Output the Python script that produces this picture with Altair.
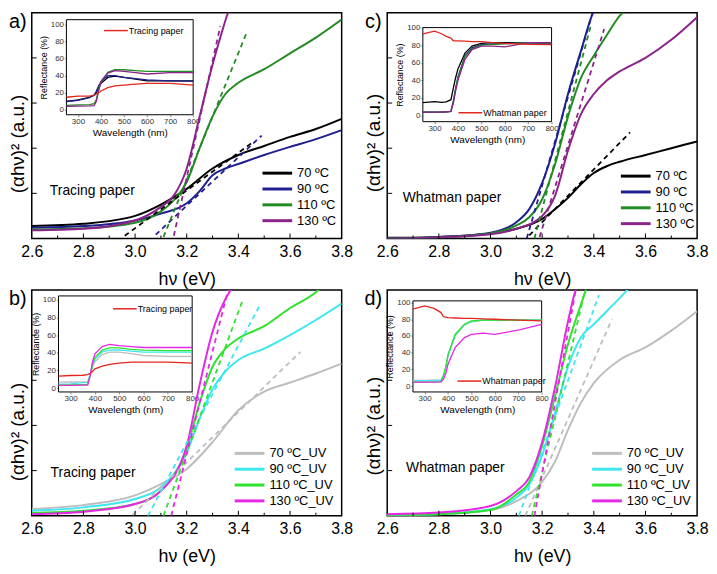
import altair as alt
import pandas as pd

W, H = 313, 228
FONT = "Liberation Sans"
RED = "#e3261f"

HV_MAJOR = [2.6, 2.8, 3.0, 3.2, 3.4, 3.6, 3.8]
HV_MINOR = [2.7, 2.9, 3.1, 3.3, 3.5, 3.7]
Y_TICKS = [20, 40, 60, 80]
WL_TICKS = [300, 400, 500, 600, 700, 800]
R_TICKS = [0, 20, 40, 60, 80, 100]

NAMES_T = ["70 ºC", "90 ºC", "110 ºC", "130 ºC"]
NAMES_UV = ["70 ºC_UV", "90 ºC_UV", "110 ºC_UV", "130 ºC_UV"]
COLORS_T = ["#000000", "#1f1f8f", "#238b23", "#8b238b"]
COLORS_UV = ["#bdbdbd", "#3ee6f2", "#2ee22e", "#e627e6"]

# ---------------- panel a (Tracing paper) ----------------
A_X = [
    [2.6, 2.8, 3.0, 3.1, 3.2, 3.3, 3.4, 3.5, 3.6, 3.7, 3.8],
    [2.6, 2.8, 3.0, 3.1, 3.2, 3.25, 3.3, 3.35, 3.4, 3.5, 3.6, 3.7, 3.8],
    [2.6, 2.8, 3.0, 3.1, 3.15, 3.2, 3.25, 3.3, 3.35, 3.4, 3.5, 3.6, 3.7, 3.8],
    [2.6, 2.8, 3.0, 3.1, 3.15, 3.2, 3.25, 3.3, 3.33, 3.36, 3.38],
]
A_Y = [
    [5.5, 6.5, 10, 15, 22, 31, 37, 41, 45, 48.5, 53],
    [4.8, 5.5, 8, 11, 15.6, 21, 28, 31, 33, 37, 40.6, 44, 48],
    [4.0, 4.5, 7, 12, 17, 25, 40, 54, 64, 69, 75, 82, 89, 97],
    [3.6, 4.3, 8, 14, 19, 31, 54, 77, 89, 100, 105],
]
A_D = ([2.96, 3.08, 3.11, 3.15], [1.2, 1.7, 0.7, 1.2], [3.46, 3.49, 3.43, 3.33], [43, 45.6, 90.6, 94])
A_WL = [250, 300, 350, 370, 380, 390, 400, 430, 460, 500, 550, 600, 700, 800]
A_RP = [14.6, 16, 16, 17, 18.5, 20, 22, 26, 28, 29, 30, 31, 31, 29]
A_RS = [
    [9.6, 11.5, 14.6, 17, 20, 26, 31, 38, 39.6, 38, 36, 34, 34, 34],
    [9.6, 11, 14, 17, 22, 28, 33, 40, 40, 38, 36.5, 35, 34, 33.5],
    [5, 5.5, 5.8, 7, 12, 24, 33, 44, 47, 47, 46, 45, 45, 45],
    [4, 4.2, 4.4, 4.6, 10, 22, 33, 43, 46, 45, 43.5, 42, 43.5, 43.5],
]

# ---------------- panel c (Whatman paper) ----------------
C_X = [
    [2.6, 2.8, 3.0, 3.1, 3.2, 3.25, 3.3, 3.35, 3.4, 3.45, 3.5, 3.6, 3.7, 3.8],
    [2.6, 2.8, 3.0, 3.1, 3.15, 3.2, 3.25, 3.3, 3.35, 3.4, 3.42],
    [2.6, 2.8, 3.0, 3.1, 3.15, 3.2, 3.25, 3.3, 3.35, 3.4, 3.45, 3.5, 3.53],
    [2.6, 2.8, 3.0, 3.1, 3.2, 3.25, 3.3, 3.35, 3.4, 3.45, 3.5, 3.6, 3.7, 3.8],
]
C_Y = [
    [0.3, 0.7, 2.2, 4.3, 8.7, 13, 18, 24, 29, 32, 34, 37, 40, 43],
    [0, 0.6, 2.6, 7.2, 13, 24.6, 42, 64, 83, 100.7, 104],
    [0, 0.5, 2.2, 5.8, 9.4, 17.4, 33, 54, 71, 81, 90, 98.6, 102],
    [0, 0.5, 1.9, 4.3, 10, 19, 39, 55, 64, 70, 74, 80, 88, 98],
]
C_D = ([3.15, 3.14, 3.17, 3.19], [1.4, 0, 0, 0.7], [3.54, 3.395, 3.39, 3.44], [47, 100, 95, 92.8])
C_WL = [250, 300, 330, 350, 370, 380, 390, 400, 430, 460, 500, 550, 600, 700, 800]
C_RP = [93, 96, 93, 90, 88, 85, 85, 85, 84.5, 84, 84, 83, 82, 81, 80.6]
C_RS = [
    [14.7, 15.7, 15, 15.5, 18, 31, 43, 53, 71, 79, 82, 83, 83, 83, 82],
    [3.7, 3.9, 4, 4.2, 4.8, 16, 31, 44, 68, 77, 80.6, 81.5, 82, 83, 82.5],
    [3.7, 3.9, 4, 4.2, 4.8, 15, 30, 43, 67, 76, 80, 81, 81.5, 83, 82.5],
    [3.7, 3.9, 4, 4.2, 4.8, 14, 28, 40, 64, 75, 79, 79, 78, 83, 83],
]

# ---------------- panel b (Tracing paper, UV) ----------------
B_X = [
    [2.6, 2.8, 3.0, 3.1, 3.2, 3.3, 3.4, 3.5, 3.6, 3.7, 3.8],
    [2.6, 2.8, 3.0, 3.1, 3.2, 3.25, 3.3, 3.35, 3.4, 3.5, 3.6, 3.7, 3.8],
    [2.6, 2.8, 3.0, 3.1, 3.2, 3.25, 3.3, 3.35, 3.4, 3.5, 3.6, 3.7, 3.72],
    [2.6, 2.8, 3.0, 3.1, 3.2, 3.25, 3.3, 3.35, 3.37, 3.39],
]
B_Y = [
    [3, 4.7, 9, 14, 20.7, 32.6, 46.7, 55, 59, 63, 67.4],
    [2.2, 3.7, 7.4, 12.6, 28, 43, 56, 64, 69, 74, 80, 86.7, 94],
    [1.2, 2.2, 5.2, 11, 30, 50, 66, 74, 78.5, 84, 92, 99, 101],
    [0.7, 1.8, 5.2, 11, 31, 58, 81.5, 96, 100, 104],
]
B_D = ([2.99, 3.05, 3.11, 3.14], [0.3, 0, 0, 0], [3.64, 3.48, 3.415, 3.36], [72.6, 92.6, 95, 100])
B_WL = [250, 300, 350, 370, 380, 390, 400, 430, 460, 500, 550, 600, 700, 800]
B_RP = [13.7, 14.5, 14.8, 15.5, 17, 19, 22, 25, 27, 28.5, 29.5, 29.6, 29.6, 28.5]
B_RS = [
    [7, 7.2, 7.4, 7.6, 15, 24, 30, 38, 40.7, 40.7, 39, 37, 36, 36],
    [4.8, 5, 6.5, 6.7, 15, 26, 33, 41, 43, 43.3, 42, 40.7, 40.7, 40.7],
    [3.7, 4, 4.2, 4.4, 14, 27, 35, 43, 45.5, 45.5, 44, 43, 42.6, 42.6],
    [3.3, 3.5, 3.6, 3.7, 14, 30, 39, 47, 49.5, 48, 47, 46, 46, 46],
]

# ---------------- panel d (Whatman paper, UV) ----------------
D_X = [
    [2.6, 2.8, 3.0, 3.1, 3.2, 3.25, 3.3, 3.35, 3.4, 3.5, 3.6, 3.7, 3.8],
    [2.6, 2.8, 3.0, 3.1, 3.15, 3.2, 3.25, 3.3, 3.35, 3.4, 3.45, 3.5, 3.53, 3.55],
    [2.6, 2.8, 3.0, 3.1, 3.15, 3.2, 3.25, 3.3, 3.35, 3.37, 3.39],
    [2.6, 2.8, 3.0, 3.1, 3.15, 3.2, 3.25, 3.3, 3.33, 3.35],
]
D_Y = [
    [0.3, 0.7, 2.5, 6.5, 15, 24, 38, 50, 58.7, 69, 74.6, 82, 90.6],
    [0.2, 0.7, 2.9, 8, 13.8, 26.8, 45.6, 66, 79, 84.8, 90.6, 96.4, 100, 102],
    [0.2, 0.7, 2.5, 9.4, 15, 31, 53, 76, 93.5, 100, 103],
    [0.7, 1.4, 4.3, 10.9, 17, 32.6, 57, 86, 100, 104],
]
D_D = ([3.135, 3.11, 3.16, 3.17], [0, 0, 0, 0], [3.47, 3.42, 3.365, 3.33], [87, 97.8, 99.3, 100])
D_WL = [250, 300, 340, 370, 380, 390, 400, 430, 470, 500, 550, 600, 700, 800]
D_RP = [92, 96, 93, 88, 83, 82.5, 82, 81.5, 81, 81, 80.5, 80, 79, 78]
D_RS = [
    [6.7, 6.8, 7, 7.2, 13, 22, 36, 60, 73, 77, 79, 79, 79, 79],
    [6.5, 6.6, 6.8, 7, 13, 22, 37, 61, 73.5, 77.5, 79, 79, 79, 79],
    [4.8, 4.8, 5, 5.5, 12, 22.6, 38, 62, 74, 78, 79, 79, 79, 79],
    [4.8, 4.8, 4.8, 5, 8, 14.7, 26.6, 46, 58, 62, 63.5, 62, 67, 74],
]


def panel(letter, paper, names, colors, cx, cy, dash, wl, rp, rs,
          text_xy, inset_box, inset_dom, paper_leg, main_leg, title_y):
    main_df = pd.DataFrame([{"s": n, "x": a, "y": b}
                            for n, xs_, ys_ in zip(names, cx, cy)
                            for a, b in zip(xs_, ys_)])
    dash_df = pd.DataFrame([{"s": n, "x": a, "y": b}
                            for n, a1, b1, a2, b2 in zip(names, *dash)
                            for a, b in ((a1, b1), (a2, b2))])
    ins_df = pd.DataFrame([{"s": n, "w": a, "r": b}
                           for n, vals in zip(names, rs)
                           for a, b in zip(wl, vals)])
    pap_df = pd.DataFrame({"p": [paper] * len(wl), "w": wl, "r": rp})

    xs = alt.Scale(domain=[2.6, 3.8], nice=False, zero=False)
    ys = alt.Scale(domain=[0, 100], nice=False, zero=False)
    x_axis = alt.Axis(values=HV_MAJOR, format=".1f", title="hν (eV)", ticks=False, tickSize=0,
                      domain=False, grid=False, labelFontSize=16, titleFontSize=18,
                      labelPadding=5, titlePadding=11, labelFlush=False, labelOverlap=False)
    y_axis = alt.Axis(labels=False, ticks=False, domain=False, grid=False,
                      title="(αhν)² (a.u.)", titleFontSize=19, titlePadding=4, titleY=title_y)
    X = lambda f: alt.X(f, scale=xs, axis=x_axis)
    Y = lambda f: alt.Y(f, scale=ys, axis=y_axis)
    color = alt.Color("s:N", scale=alt.Scale(domain=names, range=colors), sort=names,
                      legend=alt.Legend(title=None, orient="none", legendX=main_leg[0],
                                        legendY=main_leg[1], symbolType="M-2,0L2,0",
                                        symbolSize=225, symbolStrokeWidth=3, labelFontSize=13,
                                        labelOffset=11, rowPadding=0, padding=0))

    lines = alt.Chart(main_df).mark_line(clip=True, strokeWidth=2, interpolate="monotone").encode(
        x=X("x:Q"), y=Y("y:Q"), color=color)
    dashes = alt.Chart(dash_df).mark_line(clip=True, strokeWidth=1.8, strokeDash=[5, 4]).encode(
        x=X("x:Q"), y=Y("y:Q"), color=color)
    txt = alt.Chart(pd.DataFrame({"x": [text_xy[0]], "y": [text_xy[1]], "t": [paper]})).mark_text(
        align="left", baseline="middle", fontSize=14, color="black").encode(
        x=X("x:Q"), y=Y("y:Q"), text="t:N")
    xt_major = alt.Chart(pd.DataFrame({"v": HV_MAJOR[1:-1]})).mark_rule(color="black").encode(
        x=X("v:Q"), y=alt.value(H), y2=alt.value(H - 5))
    xt_minor = alt.Chart(pd.DataFrame({"v": HV_MINOR})).mark_rule(color="black").encode(
        x=X("v:Q"), y=alt.value(H), y2=alt.value(H - 3))
    yt = alt.Chart(pd.DataFrame({"v": Y_TICKS})).mark_rule(color="black").encode(
        y=Y("v:Q"), x=alt.value(0), x2=alt.value(5))
    lab = alt.Chart(pd.DataFrame({"t": [letter]})).mark_text(
        fontSize=20, align="center", baseline="middle", color="black").encode(
        text="t:N", x=alt.value(-14), y=alt.value(9))
    main = alt.layer(lines, dashes, txt, xt_major, xt_minor, yt, lab)

    il, ir, it, ib = inset_box
    ixs = alt.Scale(domain=[250, 800], range=[il, ir], nice=False, zero=False)
    iys = alt.Scale(domain=inset_dom, range=[ib, it], nice=False, zero=False)
    ix_axis = alt.Axis(orient="bottom", offset=-(H - ib), values=WL_TICKS, title="Wavelength (nm)",
                       labelFontSize=8, titleFontSize=10, tickSize=2, domain=False, grid=False,
                       labelPadding=1, titlePadding=2, labelFlush=False, labelOverlap=False,
                       labelColor="#333333")
    iy_axis = alt.Axis(orient="left", offset=-il, values=R_TICKS, title="Reflectance (%)",
                       labelFontSize=8, titleFontSize=9, tickSize=2, domain=False, grid=False,
                       labelPadding=1, titlePadding=2, labelFlush=False, labelOverlap=False,
                       labelColor="#333333")
    IX = lambda f: alt.X(f, scale=ixs, axis=ix_axis)
    IY = lambda f: alt.Y(f, scale=iys, axis=iy_axis)
    frame = alt.Chart(pd.DataFrame({"x0": [250], "x1": [800], "y0": [inset_dom[0]],
                                    "y1": [inset_dom[1]]})).mark_rect(
        fill="white", stroke="black", strokeWidth=1).encode(
        x=IX("x0:Q"), x2=alt.X2("x1:Q"), y=IY("y0:Q"), y2=alt.Y2("y1:Q"))
    ilines = alt.Chart(ins_df).mark_line(strokeWidth=1.3).encode(
        x=IX("w:Q"), y=IY("r:Q"), color=color)
    plines = alt.Chart(pap_df).mark_line(strokeWidth=1.3).encode(
        x=IX("w:Q"), y=IY("r:Q"),
        stroke=alt.Stroke("p:N", scale=alt.Scale(domain=[paper], range=[RED]),
                          legend=alt.Legend(title=None, orient="none", legendX=paper_leg[0],
                                            legendY=paper_leg[1], symbolType="M-2,0L2,0",
                                            symbolSize=144, symbolStrokeWidth=1.5,
                                            labelFontSize=9, labelOffset=6, padding=0)))
    inset = alt.layer(frame, ilines, plines)

    return alt.layer(main, inset).resolve_scale(x="independent", y="independent").properties(
        width=W, height=H)


pa = panel("a)", "Tracing paper", NAMES_T, COLORS_T, A_X, A_Y, A_D, A_WL, A_RP, A_RS,
           (2.67, 21), (35, 163, 7, 103), [-6, 106], (78, 11), (239, 153), 132)
pc = panel("c)", "Whatman paper", NAMES_T, COLORS_T, C_X, C_Y, C_D, C_WL, C_RP, C_RS,
           (2.66, 18), (36, 166, 15, 110), [-7, 100], (77, 94), (242, 156), 131)
pb = panel("b)", "Tracing paper", NAMES_UV, COLORS_UV, B_X, B_Y, B_D, B_WL, B_RP, B_RS,
           (2.673, 19), (27, 162, 6, 103), [-4, 104], (87, 12), (211, 156), 143)
pd_ = panel("d)", "Whatman paper", NAMES_UV, COLORS_UV, D_X, D_Y, D_D, D_WL, D_RP, D_RS,
            (2.673, 21.3), (26, 156, 11, 103), [-7, 102], (76, 85), (213, 156), 137)

chart = alt.concat(pa, pc, pb, pd_, columns=2, spacing={"row": 52, "column": 46},
                   bounds="flush").resolve_scale(
    color="independent", stroke="independent", x="independent", y="independent"
).properties(padding=0).configure(font=FONT).configure_view(
    stroke="black", strokeWidth=1.5).configure_axis(
    labelColor="black", titleColor="black", titleFontWeight="normal")

chart.save("out.html", embed_options={"renderer": "svg", "actions": False})
